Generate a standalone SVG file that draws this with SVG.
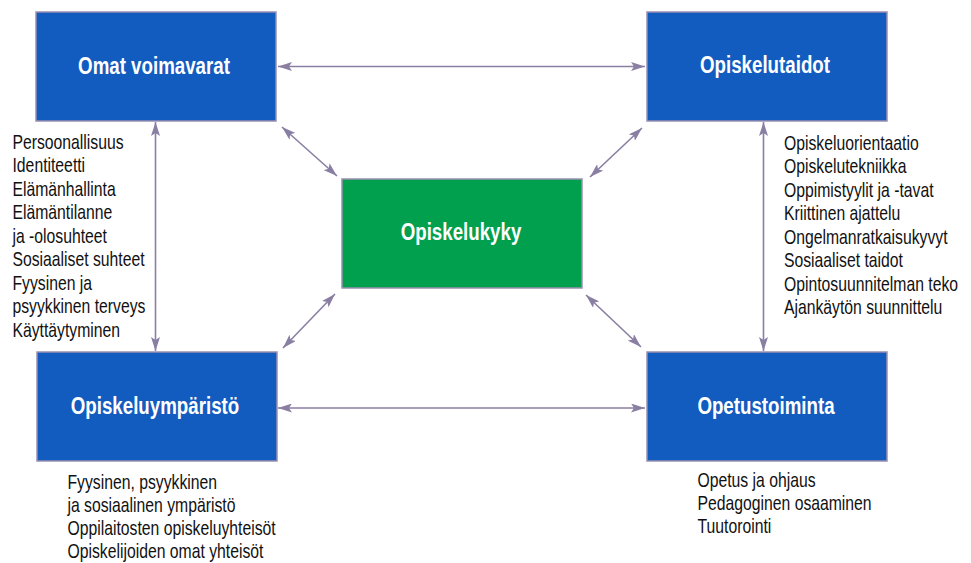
<svg xmlns="http://www.w3.org/2000/svg" width="971" height="563" viewBox="0 0 971 563">
<style>
.box{stroke:#9a8fb0;stroke-width:1.5}
.blue{fill:#125BBF}
.green{fill:#00A04E}
.lbl{font-family:"Liberation Sans",Arial,sans-serif;font-weight:bold;font-size:24px;fill:#ffffff;text-anchor:middle}
.lst{font-family:"Liberation Sans",Arial,sans-serif;font-size:21px;fill:#111111}
.con{stroke:#8a7fa3;stroke-width:1.6;fill:none;marker-start:url(#ah);marker-end:url(#ah)}
</style>
<defs>
<marker id="ah" markerUnits="userSpaceOnUse" viewBox="0 0 14 9" refX="14" refY="4.5" markerWidth="14" markerHeight="9" orient="auto-start-reverse">
<path d="M0,0 L14,4.5 L0,9 L3,4.5 z" fill="#8a7fa3"/>
</marker>
</defs>
<rect width="971" height="563" fill="#ffffff"/>
<g id="connectors">
<line class="con" x1="278" y1="66.5" x2="645" y2="66.5"/>
<line class="con" x1="278" y1="408" x2="645" y2="408"/>
<line class="con" x1="155.5" y1="122" x2="155.5" y2="351"/>
<line class="con" x1="763.5" y1="122" x2="763.5" y2="351"/>
<line class="con" x1="282" y1="127" x2="337" y2="176"/>
<line class="con" x1="642" y1="128" x2="590" y2="177"/>
<line class="con" x1="335" y1="294" x2="283" y2="348"/>
<line class="con" x1="586" y1="295" x2="641" y2="347"/>
</g>
<g id="omat-voimavarat">
<rect class="box blue" x="36" y="12" width="240" height="109"/>
<text class="lbl" transform="translate(154,74) scale(0.78,1)" x="0" y="0">Omat voimavarat</text>
<text class="lst" transform="translate(12.5,0) scale(0.75,1)">
<tspan x="0" y="149">Persoonallisuus</tspan>
<tspan x="0" y="172.5">Identiteetti</tspan>
<tspan x="0" y="196">Elämänhallinta</tspan>
<tspan x="0" y="219.5">Elämäntilanne</tspan>
<tspan x="0" y="243">ja -olosuhteet</tspan>
<tspan x="0" y="266.5">Sosiaaliset suhteet</tspan>
<tspan x="0" y="290">Fyysinen ja</tspan>
<tspan x="0" y="313.5">psyykkinen terveys</tspan>
<tspan x="0" y="337">Käyttäytyminen</tspan>
</text>
</g>
<g id="opiskelutaidot">
<rect class="box blue" x="647" y="12" width="240" height="109"/>
<text class="lbl" transform="translate(765,73) scale(0.78,1)" x="0" y="0">Opiskelutaidot</text>
<text class="lst" transform="translate(784,0) scale(0.75,1)">
<tspan x="0" y="150">Opiskeluorientaatio</tspan>
<tspan x="0" y="173.5">Opiskelutekniikka</tspan>
<tspan x="0" y="197">Oppimistyylit ja -tavat</tspan>
<tspan x="0" y="220.5">Kriittinen ajattelu</tspan>
<tspan x="0" y="244">Ongelmanratkaisukyvyt</tspan>
<tspan x="0" y="267.5">Sosiaaliset taidot</tspan>
<tspan x="0" y="291">Opintosuunnitelman teko</tspan>
<tspan x="0" y="314.5">Ajankäytön suunnittelu</tspan>
</text>
</g>
<g id="opiskelukyky">
<rect class="box green" x="342" y="179" width="240" height="109"/>
<text class="lbl" transform="translate(461,240) scale(0.78,1)" x="0" y="0">Opiskelukyky</text>
</g>
<g id="opiskeluymparisto">
<rect class="box blue" x="37" y="352" width="240" height="109"/>
<text class="lbl" transform="translate(155,414) scale(0.78,1)" x="0" y="0">Opiskeluympäristö</text>
<text class="lst" transform="translate(67.5,0) scale(0.75,1)">
<tspan x="0" y="489">Fyysinen, psyykkinen</tspan>
<tspan x="0" y="512">ja sosiaalinen ympäristö</tspan>
<tspan x="0" y="535">Oppilaitosten opiskeluyhteisöt</tspan>
<tspan x="0" y="558">Opiskelijoiden omat yhteisöt</tspan>
</text>
</g>
<g id="opetustoiminta">
<rect class="box blue" x="647" y="352" width="240" height="109"/>
<text class="lbl" transform="translate(766,414) scale(0.78,1)" x="0" y="0">Opetustoiminta</text>
<text class="lst" transform="translate(697.5,0) scale(0.75,1)">
<tspan x="0" y="487">Opetus ja ohjaus</tspan>
<tspan x="0" y="510">Pedagoginen osaaminen</tspan>
<tspan x="0" y="533">Tuutorointi</tspan>
</text>
</g>
</svg>
